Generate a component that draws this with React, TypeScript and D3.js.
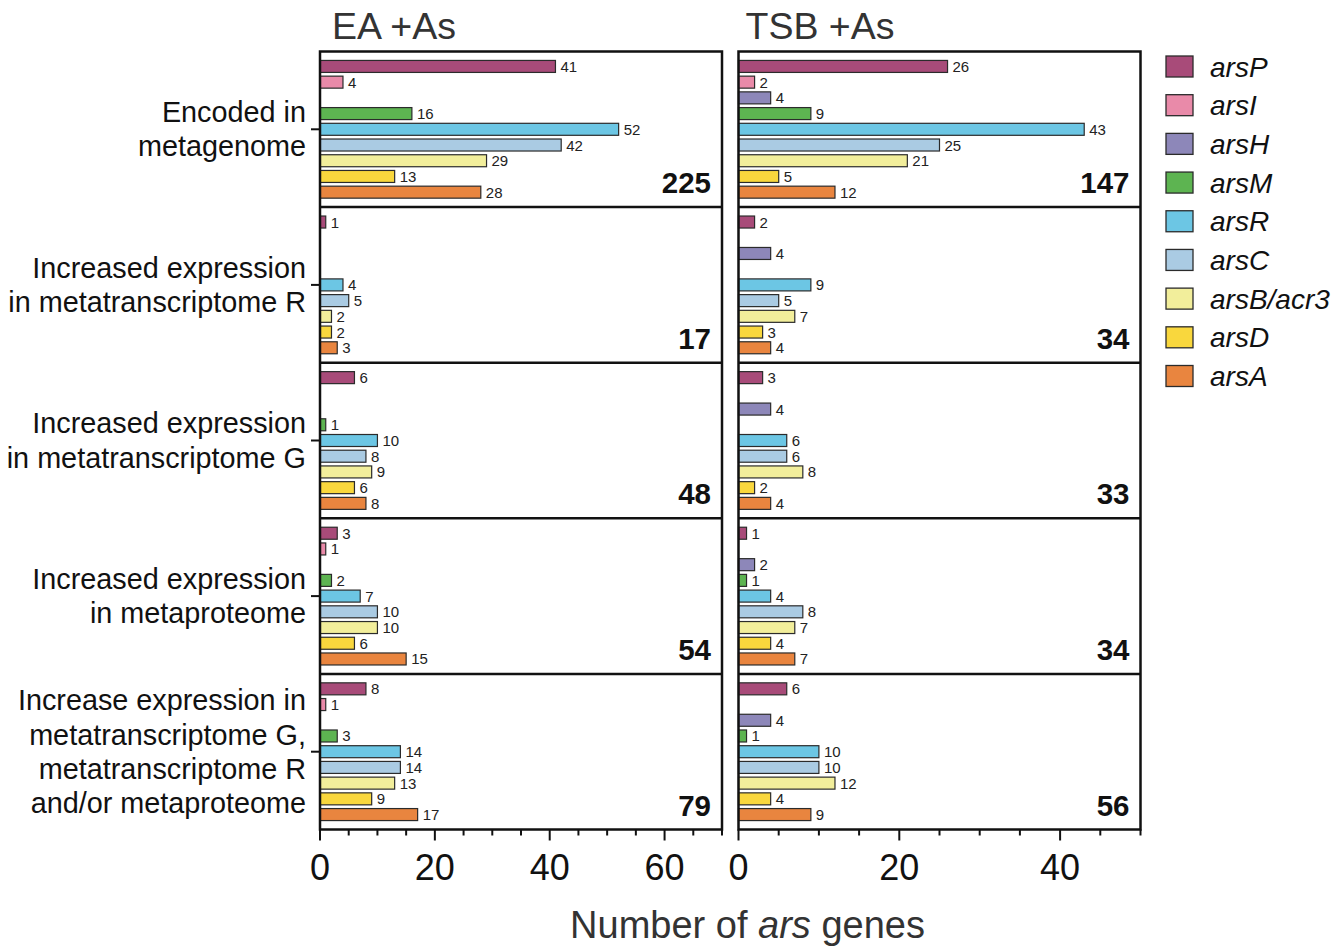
import React from "react";
import * as d3 from "d3";

const genes = ["arsP", "arsI", "arsH", "arsM", "arsR", "arsC", "arsB/acr3", "arsD", "arsA"];
const geneColors = ["#a84b79", "#e98aa9", "#8d87b9", "#5db451", "#6cc6e4", "#aacbe3", "#f2ee9b", "#f9d73d", "#e9853f"];

const rowLabels = [
  ["Encoded in", "metagenome"],
  ["Increased expression", "in metatranscriptome R"],
  ["Increased expression", "in metatranscriptome G"],
  ["Increased expression", "in metaproteome"],
  ["Increase expression in", "metatranscriptome G,", "metatranscriptome R", "and/or metaproteome"],
];

// values per row, in gene order (0 = not present)
const eaValues = [
  [41, 4, 0, 16, 52, 42, 29, 13, 28],
  [1, 0, 0, 0, 4, 5, 2, 2, 3],
  [6, 0, 0, 1, 10, 8, 9, 6, 8],
  [3, 1, 0, 2, 7, 10, 10, 6, 15],
  [8, 1, 0, 3, 14, 14, 13, 9, 17],
];
const eaTotals = [225, 17, 48, 54, 79];

const tsbValues = [
  [26, 2, 4, 9, 43, 25, 21, 5, 12],
  [2, 0, 4, 0, 9, 5, 7, 3, 4],
  [3, 0, 4, 0, 6, 6, 8, 2, 4],
  [1, 0, 2, 1, 4, 8, 7, 4, 7],
  [6, 0, 4, 1, 10, 10, 12, 4, 9],
];
const tsbTotals = [147, 34, 33, 34, 56];

const eaTicks = [0, 20, 40, 60];
const tsbTicks = [0, 20, 40];

const FONT = "'Liberation Sans', Arial, Helvetica, sans-serif";

const TOP = 51.5;
const BOTTOM = 829.5;

type PanelProps = {
  title: string;
  values: number[][];
  totals: number[];
  domainMax: number;
  ticks: number[];
  x0: number;
  x1: number;
  titleDx: number;
};

function Panel({ title, values, totals, domainMax, ticks, x0, x1, titleDx }: PanelProps) {
  const x = d3.scaleLinear().domain([0, domainMax]).range([x0, x1]);
  const rowScale = d3.scaleBand<number>().domain(d3.range(values.length)).range([TOP, BOTTOM]);
  const minorTicks = d3.range(0, domainMax + 0.001, 5);
  return (
    <g>
      <text x={x0 + titleDx} y={39} fontSize={37.5} fill="#333" fontFamily={FONT}>
        {title}
      </text>
      {values.map((row, ri) => {
        const rTop = rowScale(ri)!;
        const rH = rowScale.bandwidth();
        const y = d3.scalePoint<number>().domain(d3.range(genes.length)).range([rTop, rTop + rH]).padding(0.95);
        const bh = 12;
        return (
          <g key={ri}>
            {row.map((v, gi) =>
              v > 0 ? (
                <g key={gi}>
                  <rect
                    x={x(0)}
                    y={y(gi)! - bh / 2}
                    width={x(v) - x(0)}
                    height={bh}
                    fill={geneColors[gi]}
                    stroke="#2b2b2b"
                    strokeWidth={1.2}
                  />
                  <text
                    x={x(v) + 5}
                    y={y(gi)! + 5.5}
                    fontSize={15}
                    fill="#222"
                    fontFamily={FONT}
                  >
                    {v}
                  </text>
                </g>
              ) : null
            )}
            <text
              x={x1 - 11}
              y={rTop + rH - 14}
              fontSize={29.5}
              fontWeight="bold"
              textAnchor="end"
              fill="#111"
              fontFamily={FONT}
            >
              {totals[ri]}
            </text>
            {ri > 0 && (
              <line x1={x0} x2={x1} y1={rTop} y2={rTop} stroke="#111" strokeWidth={2.5} />
            )}
          </g>
        );
      })}
      <rect x={x0} y={TOP} width={x1 - x0} height={BOTTOM - TOP} fill="none" stroke="#111" strokeWidth={2.5} />
      {minorTicks.map((t) => (
        <line
          key={t}
          x1={x(t)}
          x2={x(t)}
          y1={BOTTOM}
          y2={BOTTOM + (ticks.includes(t) ? 11 : 6)}
          stroke="#111"
          strokeWidth={2}
        />
      ))}
      {ticks.map((t) => (
        <text key={t} x={x(t)} y={880} fontSize={36} textAnchor="middle" fill="#111" fontFamily={FONT}>
          {t}
        </text>
      ))}
    </g>
  );
}

export default function App() {
  const rowScale = d3.scaleBand<number>().domain(d3.range(rowLabels.length)).range([TOP, BOTTOM]);
  const legendY = d3.scaleLinear().domain([0, genes.length - 1]).range([66.5, 376]);
  return (
    <svg width={1335} height={946} style={{ position: "absolute", left: 0, top: 0 }}>
      <rect width={1335} height={946} fill="#fff" />
      {rowLabels.map((lines, ri) => {
        const c = rowScale(ri)! + rowScale.bandwidth() / 2;
        return (
          <g key={ri}>
            <line x1={311} x2={320} y1={c} y2={c} stroke="#111" strokeWidth={2} />
            {lines.map((l, li) => (
              <text
                key={li}
                x={306}
                y={c + (li - (lines.length - 1) / 2) * 34.3 + 10}
                fontSize={28.8}
                textAnchor="end"
                fill="#111"
                fontFamily={FONT}
              >
                {l}
              </text>
            ))}
          </g>
        );
      })}
      <Panel title="EA +As" values={eaValues} totals={eaTotals} domainMax={70} ticks={eaTicks} x0={320} x1={722} titleDx={12} />
      <Panel title="TSB +As" values={tsbValues} totals={tsbTotals} domainMax={50} ticks={tsbTicks} x0={738.5} x1={1140.5} titleDx={7} />
      <text x={747.5} y={938} fontSize={38} textAnchor="middle" fill="#333" fontFamily={FONT}>
        Number of <tspan fontStyle="italic">ars</tspan> genes
      </text>
      {genes.map((g, i) => (
        <g key={g}>
          <rect
            x={1166}
            y={legendY(i) - 10.5}
            width={27}
            height={21}
            fill={geneColors[i]}
            stroke="#2b2b2b"
            strokeWidth={1.3}
          />
          <text x={1210} y={legendY(i) + 10} fontSize={28} fontStyle="italic" fill="#111" fontFamily={FONT}>
            {g}
          </text>
        </g>
      ))}
    </svg>
  );
}
